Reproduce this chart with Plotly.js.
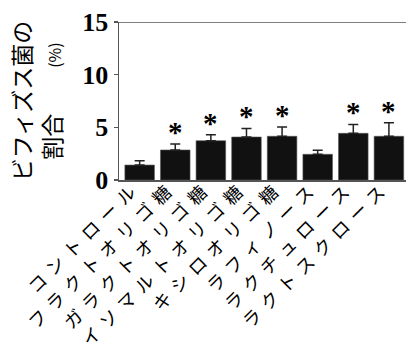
<!DOCTYPE html>
<html>
<head>
<meta charset="utf-8">
<script src="https://cdn.plot.ly/plotly-3.0.1.min.js"></script>
<style>
html,body{margin:0;padding:0;background:#fff;}
.xtick text{letter-spacing:7px;}
</style>
</head>
<body>
<div id="chart" style="width:406px;height:356px;"></div>
<script>
const categories = ["コントロール","フラクトオリゴ糖","ガラクトオリゴ糖","イソマルトオリゴ糖","キシロオリゴ糖","ラフィノース","ラクチュロース","ラクトスクロース"];
const means = [1.42, 2.85, 3.73, 4.08, 4.15, 2.44, 4.43, 4.15];
const errors = [0.41, 0.57, 0.57, 0.82, 0.88, 0.38, 0.85, 1.29];
const significance = ["", "*", "*", "*", "*", "", "*", "*"];
const yTicks = [0, 5, 10, 15];
const yTitleLine1 = "ビフィズス菌の";
const yTitleLine2 = "割合";
const yTitleUnit = "(%)";

const zeros = means.map(() => 0);

const trace = {
  type: "bar",
  x: categories,
  y: means,
  marker: {color: "#111111", line: {color: "#555555", width: 0.6}},
  error_y: {type: "data", symmetric: false, array: errors, arrayminus: zeros,
            color: "#222222", thickness: 1.5, width: 5},
  hoverinfo: "none"
};

const annotations = [];
categories.forEach((c, i) => {
  if (significance[i]) {
    annotations.push({
      x: c, y: means[i] + errors[i], xref: "x", yref: "y",
      text: significance[i], showarrow: false,
      xanchor: "center", yanchor: "bottom", yshift: -6,
      font: {family: "Liberation Serif", size: 29, color: "#000", weight: "bold"}
    });
  }
});

const layout = {
  width: 406, height: 356,
  margin: {l: 119, r: 0, t: 22, b: 176, pad: 0},
  paper_bgcolor: "#fff", plot_bgcolor: "#fff",
  showlegend: false,
  bargap: 0.17,
  xaxis: {
    type: "category", range: [-0.58, 7.48],
    showline: true, linecolor: "#555", linewidth: 1.5,
    ticks: "", tickangle: -45, showgrid: false, zeroline: false,
    ticklabelstandoff: -12, ticklabelshift: -4,
    tickfont: {family: "Noto Sans CJK JP", size: 18, color: "#000"},
    automargin: false
  },
  yaxis: {
    range: [0, 15], tickvals: yTicks, ticktext: yTicks.map(String),
    showline: true, linecolor: "#555", linewidth: 1.5,
    ticks: "outside", ticklen: 4, tickwidth: 1.5, tickcolor: "#555",
    showgrid: false, zeroline: false,
    tickfont: {family: "Liberation Serif", size: 26, color: "#000", weight: "bold"},
    title: {
      text: yTitleLine1 + "<br>" + yTitleLine2 + "\u3000\u3000<span style=\"font-size:16px\">" + yTitleUnit + "</span>",
      font: {family: "Noto Sans CJK JP", size: 23, color: "#000"},
      standoff: 14
    },
    automargin: false
  },
  shapes: [
    {type: "line", xref: "paper", x0: 0, x1: 1, yref: "y", y0: 15, y1: 15,
     line: {color: "#555", width: 1.5}}
  ],
  annotations: annotations
};

Plotly.newPlot("chart", [trace], layout, {displayModeBar: false, staticPlot: true});
</script>
</body>
</html>
